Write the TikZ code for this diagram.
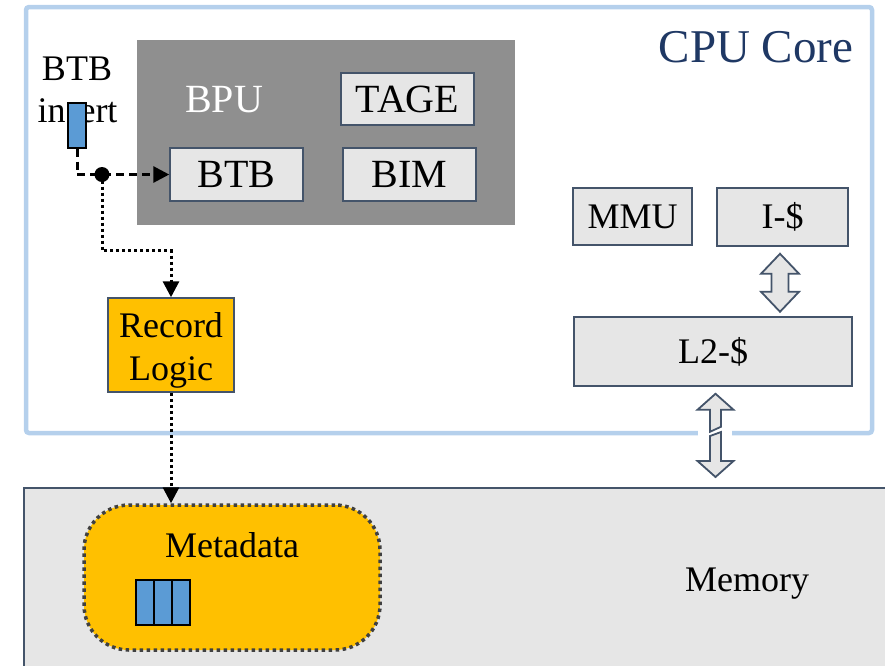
\documentclass[tikz,border=0pt]{standalone}
\usepackage{fontspec}
\setmainfont{Liberation Serif}
\usetikzlibrary{calc,arrows.meta}
\definecolor{cpub}{RGB}{181,208,236}
\definecolor{bordc}{RGB}{68,84,106}
\definecolor{boxg}{RGB}{230,230,230}
\definecolor{bpug}{RGB}{143,143,143}
\definecolor{orng}{RGB}{255,192,0}
\definecolor{cellb}{RGB}{91,155,213}
\definecolor{navy}{RGB}{31,56,100}
\definecolor{metab}{RGB}{64,64,64}
\tikzset{
  fs/.style={font=\fontsize{#1}{#1}\selectfont},
  unit/.style={draw=bordc, fill=boxg, line width=1.5pt, inner sep=0pt, font=\fontsize{36}{40}\selectfont},
  bunit/.style={unit, font=\fontsize{40}{44}\selectfont},
  cell/.style={draw=black, fill=cellb, line width=1.4pt, inner sep=0pt, minimum width=18pt, minimum height=45pt},
  dashline/.style={line width=3pt, dash pattern=on 8pt off 5pt, -{Triangle[length=16pt,width=16pt]}},
  dotline/.style={line width=3pt, dash pattern=on 3pt off 3pt, -{Triangle[length=16pt,width=16pt]}},
  arrowshape/.style={draw=bordc, fill=boxg, line width=1.8pt, line join=miter},
}
\begin{document}
\begin{tikzpicture}[x=1pt,y=-1pt]
\useasboundingbox (0,0) rectangle (885,665);
% CPU core box
\node[draw=cpub, line width=4.5pt, rounded corners=3pt, minimum width=846pt, minimum height=426pt, inner sep=0pt] (cpu) at (449,220) {};
\node[text=navy, fs=47, anchor=base] (cputxt) at (756,62) {CPU Core};
% Memory box
\node[draw=bordc, fill=boxg, line width=2pt, minimum width=866pt, minimum height=190pt, inner sep=0pt] (mem) at (457,583) {};
\node[fs=36, anchor=base] (memtxt) at (747,591) {Memory};
% BPU
\node[fill=bpug, minimum width=378pt, minimum height=185pt, inner sep=0pt] (bpu) at (326,132.5) {};
\node[text=white, fs=40, anchor=base] (bputxt) at (224,112) {BPU};
\node[bunit, minimum width=133pt, minimum height=52pt] (tage) at (407.5,99) {TAGE};
\node[bunit, minimum width=133pt, minimum height=53pt] (btb) at (236.5,174.5) {BTB};
\node[bunit, minimum width=133pt, minimum height=53pt] (bim) at (409.5,174.5) {BIM};
% caches
\node[unit, minimum width=119pt, minimum height=57pt] (mmu) at (632.5,216.5) {MMU};
\node[unit, minimum width=131pt, minimum height=58pt] (icache) at (782.5,217) {I-\$};
\node[unit, minimum width=278pt, minimum height=69pt] (l2) at (713,351.5) {L2-\$};
% Record logic
\node[unit, fill=orng, minimum width=126pt, minimum height=94pt] (rec) at (171,345) {};
\node[align=center, font=\fontsize{36}{43}\selectfont, anchor=base, inner sep=0pt] (rectxt) at (171,380) {Record\\Logic};
% Metadata
\node[fill=orng, draw=metab, line width=3.5pt, dash pattern=on 3.5pt off 3.5pt, rounded corners=45pt, minimum width=296pt, minimum height=145pt, inner sep=0pt] (meta) at (232,577.5) {};
\node[fs=36, anchor=base] (metatxt) at (232,557) {Metadata};
\node[cell] (c1) at (145,602.5) {};
\node[cell] (c2) at (163,602.5) {};
\node[cell] (c3) at (181,602.5) {};
% BTB insert
\node[fs=36, anchor=base] (ins1) at (77,80) {BTB};
\node[fs=36, anchor=base] (ins2) at (77.5,122) {insert};
\node[cell, minimum height=45pt] (ins) at (77,125.5) {};
% connectors
\draw[dashline] (ins.south) |- (btb.west);
\coordinate (j) at ($(ins.south |- btb.west)+(25,0)$);
\draw[dotline] (j) -- ++(0,76) -| (rec.north);
\fill (j) circle (7.5pt);
\draw[dotline] (rec.south) -- (rec.south |- meta.north);
% I-$ <-> L2 double arrow
\draw[arrowshape] ($(icache.south)+(-2.5,7)$) -- ++(19,20) -- ++(-10.5,0) -- ++(0,18) -- ++(10.5,0) -- ++(-19,20) -- ++(-19,-20) -- ++(10.5,0) -- ++(0,-18) -- ++(-10.5,0) -- cycle;
% broken double arrow L2 <-> memory
\fill[white] (698,429.5) rectangle (732,436.5);
\coordinate (ba) at ($(l2.south)+(2.5,7)$);
\draw[arrowshape] (ba) -- ++(18,16) -- ++(-12.5,0) -- ++(0,17) -- ++(-11,5) -- ++(0,-22) -- ++(-12.5,0) -- cycle;
\coordinate (bb) at ($(mem.north -| ba)+(0,-10)$);
\draw[arrowshape] (bb) -- ++(18,-16) -- ++(-12.5,0) -- ++(0,-29) -- ++(-11,4) -- ++(0,25) -- ++(-12.5,0) -- cycle;
\end{tikzpicture}
\end{document}
